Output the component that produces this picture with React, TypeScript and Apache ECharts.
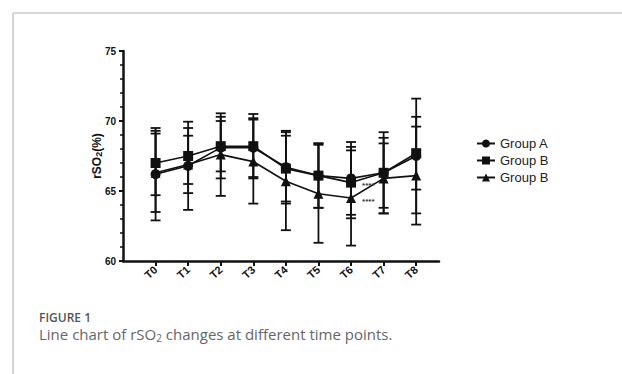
import React, { useEffect, useRef } from "react";
import * as echarts from "echarts";

const categories = ["T0", "T1", "T2", "T3", "T4", "T5", "T6", "T7", "T8"];
const seriesNames = ["Group A", "Group B", "Group B2"];
const legendLabels = ["Group A", "Group B", "Group B"];
const groupAMean = [66.2, 66.8, 68.1, 68.1, 66.7, 66.1, 65.9, 66.3, 67.5];
const groupASd = [3.3, 3.15, 2.2, 2.1, 2.6, 2.3, 2.6, 2.5, 4.1];
const groupBMean = [67.0, 67.5, 68.2, 68.2, 66.6, 66.1, 65.6, 66.3, 67.7];
const groupBSd = [2.3, 2.0, 1.8, 2.3, 2.35, 2.3, 2.55, 2.9, 2.6];
const groupCMean = [66.3, 66.9, 67.6, 67.1, 65.7, 64.8, 64.5, 65.9, 66.1];
const groupCSd = [2.8, 2.05, 2.95, 3.0, 3.5, 3.5, 3.4, 2.5, 3.5];
const groupBMarks = ["", "", "", "", "", "", "****", "", ""];
const groupCMarks = ["", "", "", "", "", "", "****", "", ""];
const yTicks = [60, 65, 70, 75];

const INK = "#111";

function lineData(means: number[], marks?: string[]) {
  return means.map((m, i) => {
    const mk = marks ? marks[i] : "";
    if (mk) {
      return {
        value: [i, m],
        label: {
          show: true,
          formatter: mk,
          position: "right",
          distance: 6,
          offset: [0, 3],
          fontSize: 8,
          fontWeight: "bold",
          color: "#333",
          fontFamily: "Liberation Sans, Arial, sans-serif",
        },
      };
    }
    return { value: [i, m] };
  });
}

function errData(means: number[], sds: number[]) {
  return means.map((m, i) => [i, m - sds[i], m + sds[i]]);
}

function errSeries(means: number[], sds: number[]) {
  return {
    type: "custom",
    silent: true,
    z: 1,
    data: errData(means, sds),
    encode: { x: 0, y: [1, 2] },
    renderItem: (params: any, api: any) => {
      const x = api.value(0);
      const lo = api.coord([x, api.value(1)]);
      const hi = api.coord([x, api.value(2)]);
      const hw = 5;
      const st = { stroke: INK, lineWidth: 1.8 };
      return {
        type: "group",
        children: [
          { type: "line", shape: { x1: lo[0], y1: lo[1], x2: hi[0], y2: hi[1] }, style: st },
          { type: "line", shape: { x1: hi[0] - hw, y1: hi[1], x2: hi[0] + hw, y2: hi[1] }, style: st },
          { type: "line", shape: { x1: lo[0] - hw, y1: lo[1], x2: lo[0] + hw, y2: lo[1] }, style: st },
        ],
      };
    },
  };
}

function lineSeries(name: string, means: number[], symbol: string, marks?: string[]) {
  return {
    type: "line",
    name,
    z: 3,
    data: lineData(means, marks),
    symbol,
    symbolSize: 10,
    lineStyle: { color: INK, width: 1.6 },
    itemStyle: { color: INK },
  };
}

export default function App() {
  const ref = useRef<HTMLDivElement>(null);
  useEffect(() => {
    if (!ref.current) return;
    const chart = echarts.init(ref.current, undefined, { renderer: "svg" });
    const font = "Liberation Sans, Arial, sans-serif";
    chart.setOption({
      animation: false,
      grid: { left: 123, top: 51, width: 316, height: 210, containLabel: false },
      xAxis: {
        type: "value",
        min: -1,
        max: 8.7,
        interval: 1,
        splitLine: { show: false },
        axisLine: { onZero: false, lineStyle: { color: INK, width: 2.5 } },
        axisTick: {
          show: true,
          length: 5,
          lineStyle: { color: INK, width: 2 },
          customValues: categories.map((_, i) => i),
        },
        axisLabel: {
          customValues: categories.map((_, i) => i),
          formatter: (v: number) => categories[Math.round(v)] ?? "",
          rotate: 42,
          margin: 7,
          fontSize: 11,
          fontWeight: "bold",
          color: INK,
          fontFamily: font,
        },
      },
      yAxis: {
        type: "value",
        min: yTicks[0],
        max: yTicks[yTicks.length - 1],
        interval: 5,
        name: "{a|rSO}{b|2}{a|(%)}",
        nameLocation: "middle",
        nameGap: 20,
        nameMoveOverlap: false,
        nameRotate: 90,
        nameTextStyle: {
          rich: {
            a: { fontSize: 12, fontWeight: "bold", color: INK, fontFamily: font },
            b: { fontSize: 9, fontWeight: "bold", color: INK, fontFamily: font, padding: [0, 0, 0, 0], verticalAlign: "bottom" },
          },
        },
        splitLine: { show: false },
        axisLine: { show: true, onZero: false, lineStyle: { color: INK, width: 2.5 } },
        axisTick: { show: true, length: 4, lineStyle: { color: INK, width: 2 } },
        minorTick: { show: true, splitNumber: 5, length: 3, lineStyle: { color: INK, width: 1.5 } },
        axisLabel: { fontSize: 10, fontWeight: "bold", color: INK, margin: 7, fontFamily: font },
      },
      legend: {
        left: 471,
        top: 132,
        orient: "vertical",
        itemWidth: 18,
        itemHeight: 10,
        itemGap: 4,
        data: seriesNames,
        formatter: (name: string) => legendLabels[seriesNames.indexOf(name)],
        textStyle: { fontSize: 13, color: "#222", fontFamily: font },
      },
      series: [
        errSeries(groupAMean, groupASd),
        errSeries(groupBMean, groupBSd),
        errSeries(groupCMean, groupCSd),
        lineSeries(seriesNames[0], groupAMean, "circle"),
        lineSeries(seriesNames[1], groupBMean, "rect", groupBMarks),
        lineSeries(seriesNames[2], groupCMean, "triangle", groupCMarks),
      ],
      graphic: [
        { type: "line", shape: { x1: 13, y1: 13, x2: 622, y2: 13 }, style: { stroke: "#c8c8c8", lineWidth: 1.5 } },
        { type: "line", shape: { x1: 13, y1: 13, x2: 13, y2: 374 }, style: { stroke: "#c8c8c8", lineWidth: 1.5 } },
        {
          type: "text",
          x: 39,
          y: 311,
          style: {
            text: "FIGURE 1",
            fontSize: 12,
            fontWeight: 600,
            fill: "#555",
            fontFamily: "Open Sans, sans-serif",
            textVerticalAlign: "top",
          },
        },
        {
          type: "text",
          x: 39,
          y: 325,
          style: {
            text: "{a|Line chart of rSO}{s|2}{a| changes at different time points.}",
            fontFamily: "Open Sans, sans-serif",
            textVerticalAlign: "top",
            rich: {
              a: { fontSize: 15, fill: "#666", fontFamily: "Open Sans, sans-serif" },
              s: { fontSize: 10, fill: "#666", fontFamily: "Open Sans, sans-serif", padding: [8, 0, 0, 0] },
            },
          },
        },
      ],
    });
    return () => chart.dispose();
  }, []);
  return (
    <div
      ref={ref}
      style={{ position: "fixed", left: 0, top: 0, width: 622, height: 374, background: "#fff" }}
    />
  );
}
